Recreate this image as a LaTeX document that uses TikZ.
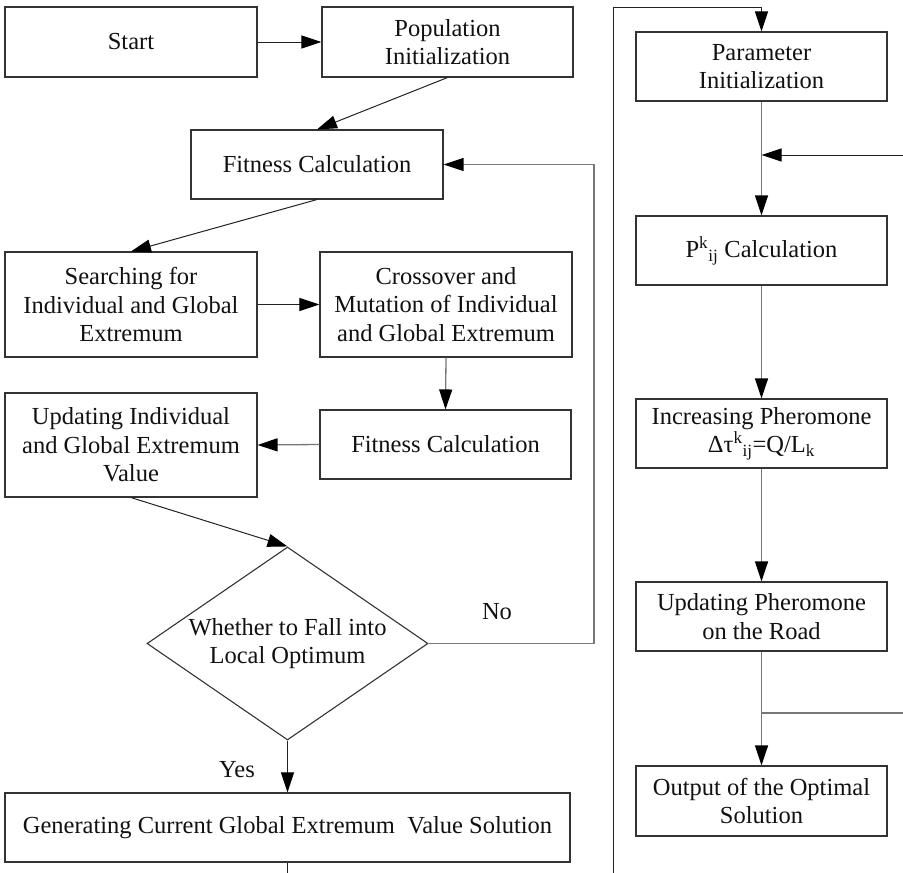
\documentclass[tikz,border=0pt]{standalone}
\usepackage{fontspec}
\setmainfont{Liberation Serif}
\usetikzlibrary{arrows.meta,shapes.geometric}
\definecolor{boxline}{HTML}{333333}
\definecolor{darkline}{HTML}{222222}
\definecolor{greyline}{HTML}{777777}
\definecolor{txt}{HTML}{111111}
\tikzset{
  txtfont/.style={font=\fontsize{24.5}{28.5}\selectfont, text=txt},
  box/.style={draw=boxline, line width=1.1pt, rectangle, align=center, inner sep=0pt, txtfont},
  decision/.style={draw=boxline, line width=1.1pt, diamond, inner sep=0pt},
  conn/.style={draw=darkline, line width=1pt, -{Triangle[length=20pt,width=13pt,color=black]}},
  conng/.style={draw=greyline, line width=1.3pt, -{Triangle[length=20pt,width=13pt,color=black]}},
  plainline/.style={draw=darkline, line width=1pt},
  plaing/.style={draw=greyline, line width=1.3pt},
  lbl/.style={txtfont, inner sep=0pt}
}
\begin{document}
\begin{tikzpicture}[x=1pt,y=1pt]
\useasboundingbox (0,0) rectangle (903,-873);
% left column
\node[box, minimum width=252pt, minimum height=70pt] (start) at (131,-42) {Start};
\node[box, minimum width=251pt, minimum height=70pt] (pop) at (447.5,-42) {Population\\Initialization};
\node[box, minimum width=252pt, minimum height=69pt] (fit1) at (317,-164.5) {Fitness Calculation};
\node[box, minimum width=252pt, minimum height=105pt] (search) at (131,-304.5) {Searching for\\Individual and Global\\Extremum};
\node[box, minimum width=252pt, minimum height=105pt] (cross) at (446,-304.5) {Crossover and\\Mutation of Individual\\and Global Extremum};
\node[box, minimum width=251pt, minimum height=69pt] (fit2) at (445.5,-444.5) {Fitness Calculation};
\node[box, minimum width=252pt, minimum height=104pt] (upd) at (131,-445) {Updating Individual\\and Global Extremum\\Value};
\node[decision, minimum width=281pt, minimum height=193pt] (dia) at (287.5,-643.5) {};
\node[lbl, align=center] (diatext) at (dia.center) {Whether to Fall into\\Local Optimum};
\node[box, minimum width=565pt, minimum height=69pt] (gen) at (287.5,-827.5) {Generating Current Global Extremum~ Value Solution};
\node[lbl] (no) at (497,-612) {No};
\node[lbl] (yes) at (237,-770) {Yes};
% right column
\node[box, minimum width=251pt, minimum height=69pt] (param) at (761.5,-66.5) {Parameter\\Initialization};
\node[box, minimum width=251pt, minimum height=69pt] (pcalc) at (761.5,-250.5) {P\textsuperscript{k}\textsubscript{ij} Calculation};
\node[box, minimum width=251pt, minimum height=69pt] (incr) at (761.5,-433.5) {Increasing Pheromone\\Δτ\textsuperscript{k}\textsubscript{ij}=Q/L\textsubscript{k}};
\node[box, minimum width=251pt, minimum height=69pt] (updp) at (761.5,-616.5) {Updating Pheromone\\on the Road};
\node[box, minimum width=251pt, minimum height=70pt] (out) at (761.5,-801) {Output of the Optimal\\Solution};
% coordinates
\coordinate (noturn1) at (594,-643.5);
\coordinate (noturn2) at (594,-164.5);
\coordinate (gbot) at (287.5,-873);
\coordinate (lb) at (613,-873);
\coordinate (lt) at (613,-7);
\coordinate (ltr) at (761.5,-7);
\coordinate (rin) at (903,-155);
\coordinate (j1) at (761.5,-155);
\coordinate (j2) at (761.5,-713);
\coordinate (rout) at (903,-713);
% connectors left
\draw[conn] (start.east) -- (pop.west);
\draw[conn] (pop.south) -- (fit1.north);
\draw[conn] (fit1.south) -- (search.north);
\draw[conn] (search.east) -- (cross.west);
\draw[conng] (cross.south) -- (fit2.north);
\draw[conng] (fit2.west) -- (upd.east);
\draw[conn] (upd.south) -- (dia.north);
\draw[conn] (dia.south) -- (gen.north);
\draw[conng] (dia.east) -- (noturn1) -- (noturn2) -- (fit1.east);
\draw[plainline] (gen.south) -- (gbot);
% connectors right
\draw[conn] (lb) -- (lt) -- (ltr) -- (param.north);
\draw[conng] (param.south) -- (pcalc.north);
\draw[conn] (rin) -- (j1);
\draw[conng] (pcalc.south) -- (incr.north);
\draw[conng] (incr.south) -- (updp.north);
\draw[conng] (updp.south) -- (out.north);
\draw[plaing] (j2) -- (rout);
\end{tikzpicture}
\end{document}
